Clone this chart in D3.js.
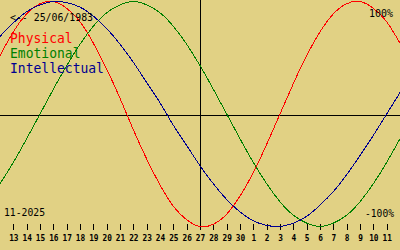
<!DOCTYPE html>
<html>
<head>
<meta charset="utf-8">
<script src="https://cdn.jsdelivr.net/npm/d3@7"></script>
<style>
  html, body { margin: 0; padding: 0; background: #e1d184; }
  svg { display: block; }
</style>
</head>
<body>
<svg id="chart"></svg>
<script>
(() => {

  // day-of-month ticks, 13 Nov .. 11 Dec 2025
  const dayLabels = [13, 14, 15, 16, 17, 18, 19, 20, 21, 22, 23, 24, 25, 26, 27, 28, 29, 30,
                     1, 2, 3, 4, 5, 6, 7, 8, 9, 10, 11];
  const monthLabel = '11-2025';
  const birthLabel = '<-- 25/06/1983';
  const todayIndex = 14; // 27
  const topLabel = '100%';
  const bottomLabel = '-100%';

  // values from 12 Nov (index -1) to 12 Dec (index 29)
  const physical = [0.52, 0.73, 0.89, 0.98, 1.00, 0.94, 0.82, 0.63, 0.40, 0.14, -0.14,
                    -0.40, -0.63, -0.82, -0.94, -1.00, -0.98, -0.89, -0.73, -0.52, -0.27,
                    0.00, 0.27, 0.52, 0.73, 0.89, 0.98, 1.00, 0.94, 0.82, 0.63];
  const emotional = [-0.62, -0.43, -0.22, 0.00, 0.22, 0.43, 0.62, 0.78, 0.90, 0.97, 1.00,
                     0.97, 0.90, 0.78, 0.62, 0.43, 0.22, 0.00, -0.22, -0.43, -0.62,
                     -0.78, -0.90, -0.97, -1.00, -0.97, -0.90, -0.78, -0.62, -0.43, -0.22];
  const intellectual = [0.69, 0.81, 0.91, 0.97, 1.00, 0.99, 0.95, 0.87, 0.76, 0.62, 0.46,
                        0.28, 0.10, -0.10, -0.28, -0.46, -0.62, -0.76, -0.87, -0.95, -0.99,
                        -1.00, -0.97, -0.91, -0.81, -0.69, -0.54, -0.37, -0.19, 0.00, 0.19];

  const seriesNames = ['Physical', 'Emotional', 'Intellectual'];
  const seriesColors = ['#ff0000', '#008000', '#000090'];

  drawChart();

  function drawChart(){
    const width = 400;
    const height = 250;

    const svg = d3.select('#chart')
      .attr('width', width)
      .attr('height', height);

    svg.append('rect')
      .attr('width', width)
      .attr('height', height)
      .attr('fill', '#e1d184');

    const x = d3.scaleLinear().domain([-1, 29]).range([0, width]);
    const y = d3.scaleLinear().domain([-1, 1]).range([226.5, 1.5]);

    // cross: today + zero line
    svg.append('line')
      .attr('x1', 0).attr('x2', width)
      .attr('y1', Math.round(y(0)) + 1.5).attr('y2', Math.round(y(0)) + 1.5)
      .attr('stroke', '#000').attr('shape-rendering', 'crispEdges');
    svg.append('line')
      .attr('x1', x(todayIndex) + 0.5).attr('x2', x(todayIndex) + 0.5)
      .attr('y1', 0).attr('y2', 226)
      .attr('stroke', '#000').attr('shape-rendering', 'crispEdges');

    // day ticks
    const ticks = svg.append('g');
    ticks.selectAll('line')
      .data(dayLabels)
      .enter()
      .append('line')
      .attr('x1', (d, i) => Math.round(x(i)) + 0.5)
      .attr('x2', (d, i) => Math.round(x(i)) + 0.5)
      .attr('y1', 224).attr('y2', 230)
      .attr('stroke', '#000').attr('shape-rendering', 'crispEdges');
    ticks.selectAll('text')
      .data(dayLabels)
      .enter()
      .append('text')
      .text(d => d)
      .attr('x', (d, i) => x(i) + 0.5)
      .attr('y', 241)
      .attr('text-anchor', 'middle')
      .attr('font-family', 'DejaVu Sans Mono')
      .attr('font-weight', 'bold')
      .attr('font-size', 8.5)
      .attr('textLength', d => String(d).length * 4.7)
      .attr('lengthAdjust', 'spacingAndGlyphs')
      .attr('fill', '#000');

    // curves
    const line = d3.line()
      .x((d, i) => x(i - 1))
      .y(d => y(d))
      .curve(d3.curveNatural);

    [physical, emotional, intellectual].forEach((values, k) => {
      svg.append('path')
        .datum(values)
        .attr('d', line)
        .attr('fill', 'none')
        .attr('stroke', seriesColors[k])
        .attr('stroke-width', 1)
        .attr('shape-rendering', 'crispEdges');
    });

    // texts
    const mono = (sel, size, len) => sel
      .attr('font-family', 'DejaVu Sans Mono')
      .attr('font-size', size)
      .attr('textLength', len)
      .attr('lengthAdjust', 'spacingAndGlyphs');

    mono(svg.append('text').text(birthLabel).attr('x', 10).attr('y', 21).attr('fill', '#000'), 11, 83);

    svg.selectAll('.legend')
      .data(seriesNames)
      .enter()
      .append('text')
      .attr('class', 'legend')
      .text(d => d)
      .attr('x', 10)
      .attr('y', (d, i) => 43 + i * 15)
      .attr('fill', (d, i) => seriesColors[i])
      .attr('font-family', 'DejaVu Sans Mono')
      .attr('font-size', 14)
      .attr('textLength', d => d.length * 7.83)
      .attr('lengthAdjust', 'spacingAndGlyphs');

    mono(svg.append('text').text(topLabel).attr('x', 369).attr('y', 17).attr('fill', '#000'), 11, 24);
    mono(svg.append('text').text(bottomLabel).attr('x', 365).attr('y', 217).attr('fill', '#000'), 11, 29);
    mono(svg.append('text').text(monthLabel).attr('x', 4).attr('y', 216).attr('fill', '#000'), 11, 41);
  }

})();
</script>
</body>
</html>
